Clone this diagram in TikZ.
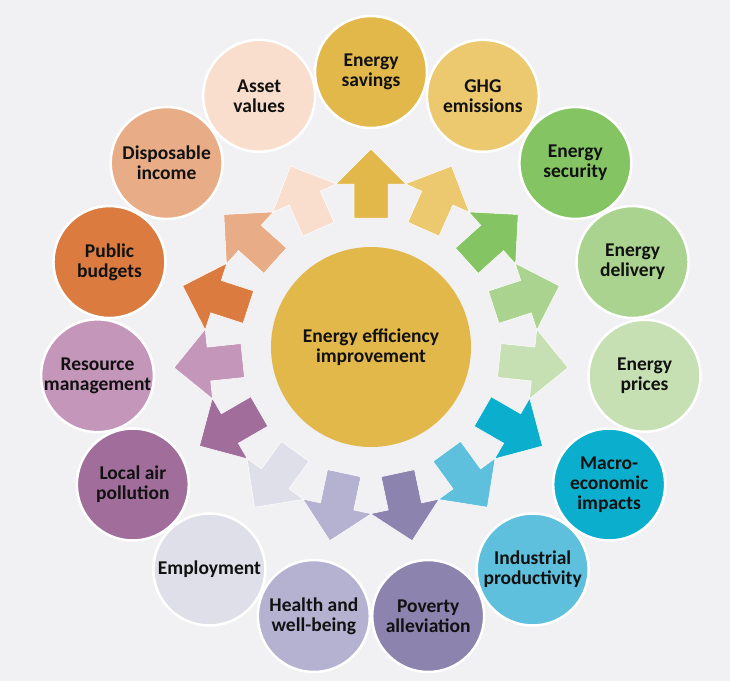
\documentclass[tikz,border=0pt]{standalone}
\usepackage{fontspec}
\setmainfont{Carlito}
\usetikzlibrary{calc}
\definecolor{bgc}{HTML}{F1F1F3}
\definecolor{txt}{HTML}{111111}
\definecolor{cc}{HTML}{E3B84B}
\definecolor{c0}{HTML}{E3B84B}
\definecolor{c1}{HTML}{ECC86E}
\definecolor{c2}{HTML}{85C463}
\definecolor{c3}{HTML}{A9D38F}
\definecolor{c4}{HTML}{C6E0B4}
\definecolor{c5}{HTML}{0CAECD}
\definecolor{c6}{HTML}{5EC0DC}
\definecolor{c7}{HTML}{8D83AF}
\definecolor{c8}{HTML}{B4B1D1}
\definecolor{c9}{HTML}{DEDFE8}
\definecolor{c10}{HTML}{A16E9B}
\definecolor{c11}{HTML}{C396BA}
\definecolor{c12}{HTML}{DB7B40}
\definecolor{c13}{HTML}{E8AD87}
\definecolor{c14}{HTML}{F9DECD}
\begin{document}
\begin{tikzpicture}[x=1pt,y=1pt,
  labeltext/.style={font=\bfseries\fontsize{19.5}{20}\selectfont, text=txt, align=center},
  bubble/.style={circle, draw=white, line width=2.5pt, minimum size=112pt, inner sep=0pt, labeltext},
  hub/.style={circle, minimum size=200pt, inner sep=0pt, fill=cc, labeltext},
  blockarrow/.style={draw=white, line width=0.5pt, line join=miter}
]
\fill[bgc] (0,0) rectangle (730,-681);
\useasboundingbox (0,0) rectangle (730,-681);
\coordinate (o) at (371,-347);
% block arrows
\foreach \i in {0,...,14}{
  \pgfmathsetmacro{\a}{90-24*\i}
  \begin{scope}[shift={(o)}, rotate=\a]
    \fill[c\i, blockarrow] (129,-17) -- (163,-17) -- (163,-35) -- (198,0) -- (163,35) -- (163,17) -- (129,17) -- cycle;
  \end{scope}
}
\node[hub] (c) at (o) {Energy efficiency\\improvement};
\foreach \i/\txt in {0/{Energy\\savings},1/{GHG\\emissions},2/{Energy\\security},3/{Energy\\delivery},4/{Energy\\prices},5/{Macro-\\economic\\impacts},6/{Industrial\\productivity},7/{Poverty\\alleviation},8/{Health and\\well-being},9/{Employment},10/{Local air\\pollution},11/{Resource\\management},12/{Public\\budgets},13/{Disposable\\income},14/{Asset\\values}}{
  \pgfmathsetmacro{\a}{90-24*\i}
  \node[bubble, fill=c\i] (b\i) at ($(c)+(\a:275)$) {\txt};
}
\end{tikzpicture}
\end{document}
